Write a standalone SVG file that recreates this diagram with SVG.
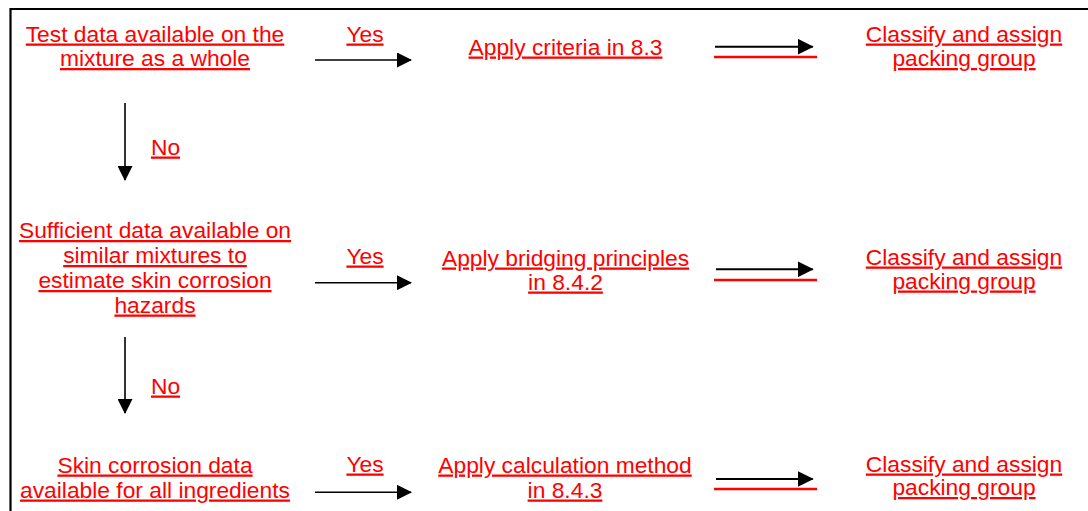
<svg xmlns="http://www.w3.org/2000/svg" width="1088" height="511" viewBox="0 0 1088 511">
<defs>
<marker id="ah" markerWidth="15" markerHeight="15" refX="14" refY="7.5" orient="auto" markerUnits="userSpaceOnUse"><path d="M0,0 L15,7.5 L0,15 Z" fill="#000"/></marker>
<marker id="ah2" markerWidth="16" markerHeight="16" refX="15" refY="8" orient="auto" markerUnits="userSpaceOnUse"><path d="M0,0 L16,8 L0,16 Z" fill="#000"/></marker>
</defs>
<style>
text{font-family:"Liberation Sans",Arial,sans-serif;font-size:22.8px;fill:#f00;text-decoration:underline;text-anchor:middle}
.c{stroke:#000;stroke-width:1.6;fill:none}
.c2{stroke:#000;stroke-width:2;fill:none}
.r{stroke:#f00;stroke-width:2.4;fill:none}
</style>
<rect width="1088" height="511" fill="#fff"/>
<g id="frame"><path d="M10.5,511 V9 H1088" stroke="#000" stroke-width="2.2" fill="none"/></g>
<g id="n1"><text x="155" y="41.5">Test data available on the</text><text x="155" y="66">mixture as a whole</text></g>
<g id="yes1"><text x="365" y="41.5">Yes</text></g>
<g id="a1"><text x="565.5" y="54.5">Apply criteria in 8.3</text></g>
<g id="c1"><text x="964" y="41.5">Classify and assign</text><text x="964" y="66">packing group</text></g>
<g id="no1"><text x="165.5" y="154.5">No</text></g>
<g id="n2"><text x="155" y="238">Sufficient data available on</text><text x="155" y="263">similar mixtures to</text><text x="155" y="288">estimate skin corrosion</text><text x="155" y="312.5">hazards</text></g>
<g id="yes2"><text x="365" y="263.5">Yes</text></g>
<g id="a2"><text x="565.5" y="265.5">Apply bridging principles</text><text x="565.5" y="289.5">in 8.4.2</text></g>
<g id="c2"><text x="964" y="264.5">Classify and assign</text><text x="964" y="288.5">packing group</text></g>
<g id="no2"><text x="165.5" y="393.5">No</text></g>
<g id="n3"><text x="155" y="472.5">Skin corrosion data</text><text x="155" y="497.5">available for all ingredients</text></g>
<g id="yes3"><text x="365" y="471.5">Yes</text></g>
<g id="a3"><text x="565" y="472.5">Apply calculation method</text><text x="565" y="497.5">in 8.4.3</text></g>
<g id="c3"><text x="964" y="471.5">Classify and assign</text><text x="964" y="495">packing group</text></g>
<g id="connectors">
<path class="c" d="M315,60 H411" marker-end="url(#ah)"/>
<path class="c" d="M315,282.7 H411" marker-end="url(#ah)"/>
<path class="c" d="M315,492.3 H411" marker-end="url(#ah)"/>
<path class="c" d="M125,103 V180" marker-end="url(#ah)"/>
<path class="c" d="M125,337 V413" marker-end="url(#ah)"/>
<path class="c2" d="M715,46.7 H812.7" marker-end="url(#ah2)"/>
<path class="c2" d="M716,269.3 H812.7" marker-end="url(#ah2)"/>
<path class="c2" d="M716,479 H812.7" marker-end="url(#ah2)"/>
<path class="r" d="M714,57 H817"/>
<path class="r" d="M714,280 H817"/>
<path class="r" d="M714,489 H817"/>
</g>
</svg>
